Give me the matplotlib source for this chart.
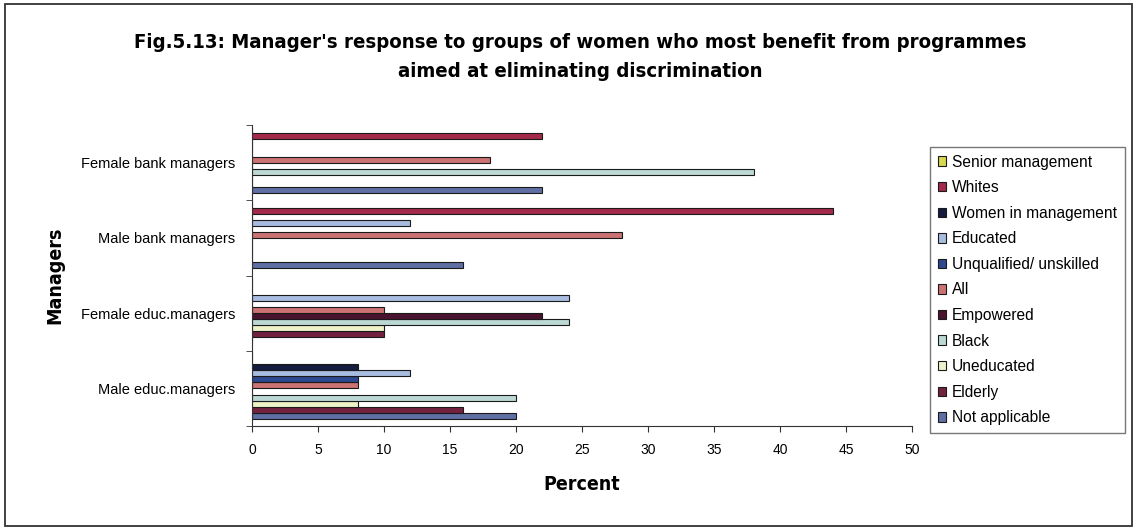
import numpy as np
import matplotlib
matplotlib.use("Agg")
import matplotlib.pyplot as plt
from matplotlib.patches import Rectangle

# Manager groups, bottom to top
managers = ["Male educ.managers", "Female educ.managers",
            "Male bank managers", "Female bank managers"]

# Percent of managers naming each group (same order as managers)
not_applicable = [20, 0, 16, 22]
elderly = [16, 10, 0, 0]
uneducated = [8, 10, 0, 0]
black = [20, 24, 0, 38]
empowered = [0, 22, 0, 0]
all_women = [8, 10, 28, 18]
unqualified = [8, 0, 0, 0]
educated = [12, 24, 12, 0]
women_in_mgmt = [8, 0, 0, 0]
whites = [0, 0, 44, 22]
senior_mgmt = [0, 0, 0, 0]

series = [
    ("Not applicable", not_applicable, "#5f6ea3"),
    ("Elderly", elderly, "#72223f"),
    ("Uneducated", uneducated, "#eef2c8"),
    ("Black", black, "#bcd8d4"),
    ("Empowered", empowered, "#4a1430"),
    ("All", all_women, "#cc7272"),
    ("Unqualified/ unskilled", unqualified, "#2c4890"),
    ("Educated", educated, "#a8bce0"),
    ("Women in management", women_in_mgmt, "#141c40"),
    ("Whites", whites, "#a32a4a"),
    ("Senior management", senior_mgmt, "#d8d850"),
]

plt.rcParams["font.family"] = ["Liberation Sans", "DejaVu Sans"]
narrow = dict(family=["DejaVu Sans"], fontstretch="condensed", fontweight="bold")

fig = plt.figure(figsize=(11.37, 5.30), dpi=100)
ax = fig.add_axes([0.2216, 0.196, 0.5805, 0.568])

y = np.arange(len(managers))
h = 1 / 12.5  # Excel gap width 150%
handles = []
for i, (name, vals, col) in enumerate(series):
    b = ax.barh(y - 0.4 + h * i + h / 2, vals, height=h, color=col,
                edgecolor="#1a1a1a", linewidth=0.8, label=name)
    handles.append(b)

ax.set_xlim(0, 50)
ax.set_ylim(-0.5, len(managers) - 0.5)
ax.set_xticks(np.arange(0, 51, 5))
ax.set_yticks(y)
ax.set_yticklabels(managers)
ax.set_yticks(np.arange(-0.5, len(managers)), minor=True)
ax.tick_params(axis="y", which="major", length=0, pad=12, labelsize=10.5)
ax.tick_params(axis="y", which="minor", length=4, direction="out", color="#333333")
ax.tick_params(axis="x", length=4, direction="out", color="#333333", labelsize=10, pad=8)
for s in ["top", "right"]:
    ax.spines[s].set_visible(False)
for s in ["left", "bottom"]:
    ax.spines[s].set_color("#333333")

ax.set_xlabel("Percent", fontsize=14, labelpad=13, **narrow)
ax.set_ylabel("Managers", fontsize=14, labelpad=12, **narrow)

fig.text(0.51, 0.92, "Fig.5.13: Manager's response to groups of women who most benefit from programmes",
         ha="center", va="center", fontsize=14.6, **narrow)
fig.text(0.51, 0.865, "aimed at eliminating discrimination",
         ha="center", va="center", fontsize=14.6, **narrow)

leg = fig.legend(handles[::-1], [s[0] for s in series][::-1],
                 loc="upper left", bbox_to_anchor=(0.818, 0.723),
                 fontsize=11.2, frameon=True, fancybox=False, edgecolor="#555555",
                 handlelength=0.55, handleheight=0.55, handletextpad=0.35,
                 labelspacing=0.68, borderpad=0.5, borderaxespad=0)
leg.get_frame().set_linewidth(1.0)

# chart area border
fig.patches.append(Rectangle((0.004, 0.008), 0.992, 0.984, transform=fig.transFigure,
                             fill=False, edgecolor="#333333", linewidth=1.3))

fig.savefig("out.png", dpi=100)
